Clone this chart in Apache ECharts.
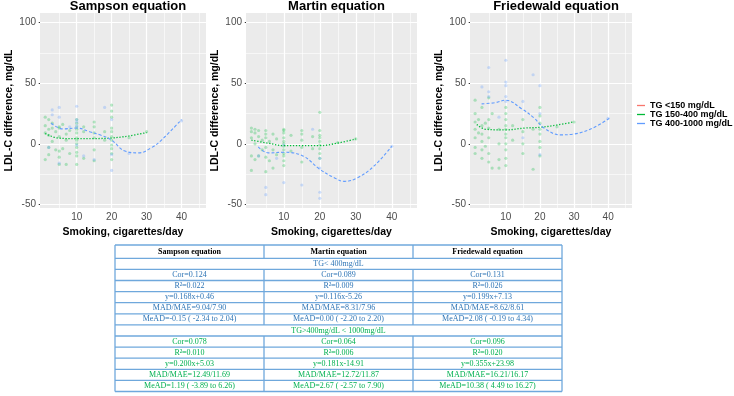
<!DOCTYPE html>
<html>
<head>
    <meta charset="utf-8">
    <title>LDL-C difference vs smoking</title>
    <script src="https://cdn.jsdelivr.net/npm/echarts@6/dist/echarts.min.js"></script>
    <style>
        body { margin: 0; background: #fff; }
    </style>
</head>
<body>
    <div id="main" style="width: 734px;height:396px;"></div>
    <script type="text/javascript">
        // panel titles and legend names
        var panelTitles = ['Sampson equation', 'Martin equation', 'Friedewald equation'];
        var groupNames = ['TG <150 mg/dL', 'TG 150-400 mg/dL', 'TG 400-1000 mg/dL'];
        var xTicks = [10, 20, 30, 40];
        var yTicks = [-50, 0, 50, 100];
        var xMinor = [5, 15, 25, 35, 45];
        var yMinor = [-25, 25, 75];

        // Sampson: points [cigarettes/day, LDL-C difference]
        var sampGreen = [
            [1,22],[1,9],[1,-13],[1,15],[2,20],[2,12],[2,7],[2,-3],[2,-9],[3,13],[3,2],[3,17],
            [4,10],[4,-5],[5,14],[5,13],[5,6],[5,-6],[5,-11],[5,-17],[6,16],[6,-4],[7,8],[7,-17],[7,3],
            [8,11],[8,-8],[10,20],[10,17],[10,12],[10,9],[10,5],[10,3],[10,0],[10,-3],[10,-7],[10,-10],
            [10,-17],[10,14],[12,14],[12,10],[12,-12],[15,18],[15,14],[15,9],[15,5],[15,-5],[15,-14],
            [18,10],[18,3],[20,32],[20,27],[20,22],[20,13],[20,10],[20,6],[20,3],[20,-1],[20,-4],
            [20,-8],[20,-13],[25,5],[30,10]
        ];
        var sampBlue = [
            [2,-3],[3,28],[3,24],[5,30],[5,22],[5,-16],[8,14],[10,31],[10,20],[10,18],[10,15],[10,-1],
            [12,-10],[15,-13],[18,30],[20,20],[20,-9],[20,-22],[25,-8],[40,19]
        ];
        var sampGreenFit = [[1,8.5],[4.6,4.8],[10,4.2],[15,4.3],[20,4.8],[25,6.5],[30,9.3]];
        var sampBlueFit = [[2.7,17],[6,12.3],[10,13],[13.7,10],[17,7],[20,3],[23.8,-6],[27.7,-7.5],[31.5,-3],[34.4,3.5],[40,20]];

        // Martin
        var martGreen = [
            [1,13],[1,10],[1,5],[1,-10],[1,-22],[2,12],[2,9],[2,0],[2,-13],[3,6],[3,-10],[3,11],
            [4,3],[4,-5],[5,11],[5,8],[5,5],[5,-3],[5,-11],[5,-23],[6,2],[6,-14],[7,8],[7,-5],[7,-20],
            [8,-9],[8,4],[10,12],[10,11],[10,9],[10,5],[10,2],[10,0],[10,-2],[10,-5],[10,-8],[10,-10],
            [10,-14],[10,-18],[12,7],[12,-6],[15,11],[15,8],[15,3],[15,-3],[15,-15],[18,6],[18,-4],
            [20,26],[20,11],[20,7],[20,5],[20,2],[20,-1],[20,-4],[20,-8],[20,-12],[25,1],[30,4]
        ];
        var martBlue = [
            [3,-10],[5,-36],[5,-42],[8,-12],[10,-32],[10,-1],[15,-34],[18,12],[20,-12],[20,-40],
            [20,-45],[20,-20],[40,-2]
        ];
        var martGreenFit = [[1,3],[5.7,0.5],[10,-1.5],[15,-1.5],[20,-1.5],[24.8,0.5],[30,4]];
        var martBlueFit = [[2.9,-2.5],[5.7,-7.5],[10,-7],[15.3,-10],[20,-21],[24,-28],[26.8,-31],[30.5,-28],[35,-18.5],[40,-2]];

        // Friedewald
        var friedGreen = [
            [1,36],[1,25],[1,18],[1,12],[1,5],[1,-3],[1,-8],[2,20],[2,9],[3,30],[3,15],[3,8],[3,2],
            [3,-5],[3,-12],[4,17],[4,-2],[5,38],[5,20],[5,13],[5,5],[5,-8],[5,-15],[6,25],[6,-20],
            [8,12],[8,0],[8,-13],[8,-20],[10,25],[10,20],[10,15],[10,12],[10,8],[10,5],[10,0],[10,-5],
            [10,-12],[10,-18],[10,30],[12,15],[12,3],[15,20],[15,10],[15,0],[15,-8],[18,-21],[18,12],
            [20,30],[20,23],[20,17],[20,12],[20,8],[20,2],[20,-3],[20,-10],[25,14],[30,18]
        ];
        var friedBlue = [
            [3,47],[5,63],[5,43],[5,39],[8,22],[10,69],[10,51],[10,48],[10,39],[10,35],[15,35],[15,5],
            [18,57],[20,48],[20,-9],[20,25],[40,21]
        ];
        var friedGreenFit = [[1.5,16],[4.1,12],[10,11.5],[15.5,13],[20.3,13.7],[25,15.5],[29.8,18]];
        var friedBlueFit = [[2.9,33],[6.9,34],[10,36],[14.6,29],[18.4,21],[21.2,13],[26,7.4],[29.8,8],[35.5,13],[40.3,21]];

        // table below the plots
        var tableHeader = ['Sampson equation', 'Martin equation', 'Friedewald equation'];
        var lowTitle = 'TG< 400mg/dL';
        var lowRows = [
            ['Cor=0.124', 'Cor=0.089', 'Cor=0.131'],
            ['R\u00b2=0.022', 'R\u00b2=0.009', 'R\u00b2=0.026'],
            ['y=0.168x+0.46', 'y=0.116x-5.26', 'y=0.199x+7.13'],
            ['MAD/MAE=9.04/7.90', 'MAD/MAE=8.31/7.96', 'MAD/MAE=8.62/8.61'],
            ['MeAD=-0.15 ( -2.34 to 2.04)', 'MeAD=0.00 ( -2.20 to 2.20)', 'MeAD=2.08 ( -0.19 to 4.34)']
        ];
        var highTitle = 'TG>400mg/dL < 1000mg/dL';
        var highRows = [
            ['Cor=0.078', 'Cor=0.064', 'Cor=0.096'],
            ['R\u00b2=0.010', 'R\u00b2=0.006', 'R\u00b2=0.020'],
            ['y=0.200x+5.03', 'y=0.181x-14.91', 'y=0.355x+23.98'],
            ['MAD/MAE=12.49/11.69', 'MAD/MAE=12.72/11.87', 'MAD/MAE=16.21/16.17'],
            ['MeAD=1.19 ( -3.89 to 6.26)', 'MeAD=2.67 ( -2.57 to 7.90)', 'MeAD=10.38 ( 4.49 to 16.27)']
        ];

        var colors = ['#F8766D', '#00BA38', '#619CFF'];
        var panels = [
            { green: sampGreen, blue: sampBlue, gFit: sampGreenFit, bFit: sampBlueFit, left: 40, width: 166 },
            { green: martGreen, blue: martBlue, gFit: martGreenFit, bFit: martBlueFit, left: 246, width: 171 },
            { green: friedGreen, blue: friedBlue, gFit: friedGreenFit, bFit: friedBlueFit, left: 470, width: 162 }
        ];

        var myChart = echarts.init(document.getElementById('main'));

        var grids = [], xAxes = [], yAxes = [], series = [], titles = [];
        panels.forEach(function (p, i) {
            grids.push({ left: p.left, top: 13, width: p.width, height: 195, show: true,
                backgroundColor: '#EBEBEB', borderWidth: 0 });
            titles.push({ text: panelTitles[i], left: p.left + p.width / 2, top: -5, textAlign: 'center',
                textStyle: { fontSize: 13, fontWeight: 'bold', color: '#000' } });
            xAxes.push({
                gridIndex: i, type: 'value', min: -0.5, max: 47,
                splitLine: { show: false }, axisLine: { show: false },
                axisTick: { show: true, length: 3, customValues: xTicks, lineStyle: { color: '#333' } },
                axisLabel: { customValues: xTicks, color: '#4D4D4D', fontSize: 10, margin: 4 },
                name: 'Smoking, cigarettes/day', nameLocation: 'middle', nameGap: 19,
                nameTextStyle: { fontWeight: 'bold', fontSize: 10.5, color: '#000' }
            });
            yAxes.push({
                gridIndex: i, type: 'value', min: -53, max: 108,
                splitLine: { show: false }, axisLine: { show: false },
                axisTick: { show: true, length: 3, customValues: yTicks, lineStyle: { color: '#333' } },
                axisLabel: { customValues: yTicks, color: '#4D4D4D', fontSize: 10, margin: 4 },
                name: 'LDL-C difference, mg/dL', nameLocation: 'middle', nameGap: 25,
                nameTextStyle: { fontWeight: 'bold', fontSize: 10.5, color: '#000' }
            });
            // white ggplot style grid lines, minor ones thinner
            var gl = [];
            xMinor.forEach(function (v) { gl.push({ xAxis: v, lineStyle: { width: 0.6 } }); });
            yMinor.forEach(function (v) { gl.push({ yAxis: v, lineStyle: { width: 0.6 } }); });
            xTicks.forEach(function (v) { gl.push({ xAxis: v, lineStyle: { width: 1.2 } }); });
            yTicks.forEach(function (v) { gl.push({ yAxis: v, lineStyle: { width: 1.2 } }); });
            series.push({
                type: 'scatter', xAxisIndex: i, yAxisIndex: i, data: p.green, symbolSize: 3.2, z: 3,
                itemStyle: { color: colors[1], opacity: 0.28 },
                markLine: { silent: true, symbol: 'none', label: { show: false }, animation: false, z: 1,
                    lineStyle: { color: '#FFFFFF', type: 'solid', opacity: 1 },
                    emphasis: { disabled: true }, data: gl }
            });
            series.push({
                type: 'scatter', xAxisIndex: i, yAxisIndex: i, data: p.blue, symbolSize: 3.2, z: 3,
                itemStyle: { color: colors[2], opacity: 0.3 }
            });
            series.push({
                name: groupNames[0], type: 'line', xAxisIndex: i, yAxisIndex: i, data: [],
                symbol: 'none', color: colors[0], lineStyle: { color: colors[0], width: 1 }
            });
            series.push({
                name: groupNames[1], type: 'line', xAxisIndex: i, yAxisIndex: i, data: p.gFit,
                smooth: 0.4, symbol: 'none', z: 4, color: colors[1],
                lineStyle: { color: colors[1], width: 1.3, type: [1.3, 1.7] }
            });
            series.push({
                name: groupNames[2], type: 'line', xAxisIndex: i, yAxisIndex: i, data: p.bFit,
                smooth: 0.4, symbol: 'none', z: 4, color: colors[2],
                lineStyle: { color: colors[2], width: 1.1, type: [3, 2] }
            });
        });

        // table drawn with graphic elements
        var tLeft = 115, colW = 149, tTop = 245, headH = 13.3, rowH = 11.1;
        var border = '#6FA8DC';
        var blueText = '#2E75B6', greenText = '#00B050';
        var rows = [];
        rows.push({ cells: tableHeader, color: '#000', bold: true });
        rows.push({ span: lowTitle, color: blueText });
        lowRows.forEach(function (r) { rows.push({ cells: r, color: blueText }); });
        rows.push({ span: highTitle, color: greenText });
        highRows.forEach(function (r) { rows.push({ cells: r, color: greenText }); });

        var graphics = [];
        var tRight = tLeft + colW * 3;
        var y = tTop;
        rows.forEach(function (r, k) {
            var h = k === 0 ? headH : rowH;
            graphics.push({ type: 'line', shape: { x1: tLeft, y1: y, x2: tRight, y2: y },
                style: { stroke: border, lineWidth: 1.3 } });
            var font = (r.bold ? 'bold ' : '') + '8px "Liberation Serif", "Times New Roman", serif';
            if (r.span) {
                graphics.push({ type: 'text', x: tLeft + colW * 1.5, y: y + h / 2,
                    style: { text: r.span, fill: r.color, font: font, align: 'center', verticalAlign: 'middle' } });
            } else {
                r.cells.forEach(function (c, j) {
                    graphics.push({ type: 'text', x: tLeft + colW * (j + 0.5), y: y + h / 2,
                        style: { text: c, fill: r.color, font: font, align: 'center', verticalAlign: 'middle' } });
                });
                [1, 2].forEach(function (j) {
                    graphics.push({ type: 'line', shape: { x1: tLeft + colW * j, y1: y, x2: tLeft + colW * j, y2: y + h },
                        style: { stroke: border, lineWidth: 1.3 } });
                });
            }
            y += h;
        });
        graphics.push({ type: 'line', shape: { x1: tLeft, y1: y, x2: tRight, y2: y }, style: { stroke: border, lineWidth: 1.3 } });
        graphics.push({ type: 'line', shape: { x1: tLeft, y1: tTop, x2: tLeft, y2: y }, style: { stroke: border, lineWidth: 1.3 } });
        graphics.push({ type: 'line', shape: { x1: tRight, y1: tTop, x2: tRight, y2: y }, style: { stroke: border, lineWidth: 1.3 } });

        var option = {
            animation: false,
            textStyle: { fontFamily: '"Liberation Sans", Arial, sans-serif' },
            title: titles,
            legend: {
                data: groupNames, orient: 'vertical', left: 637, top: 101, padding: 0,
                icon: 'rect', itemWidth: 8, itemHeight: 1.3, itemGap: 0,
                textStyle: { fontSize: 9, fontWeight: 'bold', color: '#000', lineHeight: 8 }
            },
            grid: grids,
            xAxis: xAxes,
            yAxis: yAxes,
            series: series,
            graphic: graphics
        };

        myChart.setOption(option);
    </script>
</body>
</html>
